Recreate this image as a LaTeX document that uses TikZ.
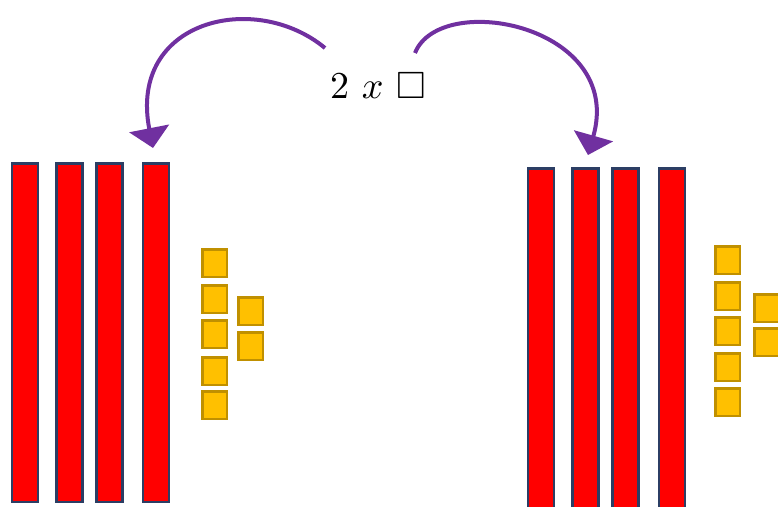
\documentclass[tikz,border=0pt]{standalone}
\usepackage{amssymb}
\usetikzlibrary{arrows.meta}
\definecolor{barred}{RGB}{255,0,0}
\definecolor{barblue}{RGB}{44,62,100}
\definecolor{unitfill}{RGB}{255,192,0}
\definecolor{unitdraw}{RGB}{192,144,0}
\definecolor{arrowpurple}{RGB}{112,48,160}
\tikzset{
  bar/.style={draw=barblue, fill=barred, line width=2.5pt, inner sep=0pt,
    minimum width=26pt, minimum height=338.5pt},
  rbar/.style={bar, minimum height=340.5pt},
  unit/.style={draw=unitdraw, fill=unitfill, line width=2.5pt, inner sep=0pt,
    minimum width=24.5pt, minimum height=27.5pt},
  curvearrow/.style={draw=arrowpurple, line width=4pt,
    -{Triangle[length=20pt,width=40pt]}}
}
\begin{document}
\begin{tikzpicture}[x=1pt,y=-1pt]
\useasboundingbox (0,0) rectangle (778,506);
\clip (0,0) rectangle (778,506);
% left bars
\node[bar] (L1) at (25,332.5) {};
\node[bar] (L2) at (69.5,332.5) {};
\node[bar] (L3) at (109.5,332.5) {};
\node[bar] (L4) at (156,332.5) {};
% left units
\node[unit] (LA1) at (214.5,263) {};
\node[unit] (LA2) at (214.5,299) {};
\node[unit] (LA3) at (214.5,334) {};
\node[unit] (LA4) at (214.5,371) {};
\node[unit] (LA5) at (214.5,405) {};
\node[unit] (LB1) at (250.5,311) {};
\node[unit] (LB2) at (250.5,346) {};
% right bars
\node[rbar] (R1) at (541,338.5) {};
\node[rbar] (R2) at (585.5,338.5) {};
\node[rbar] (R3) at (625.5,338.5) {};
\node[rbar] (R4) at (672,338.5) {};
% right units
\node[unit] (RA1) at (727.5,260) {};
\node[unit] (RA2) at (727.5,296) {};
\node[unit] (RA3) at (727.5,331) {};
\node[unit] (RA4) at (727.5,367) {};
\node[unit] (RA5) at (727.5,402) {};
\node[unit] (RB1) at (766.5,308) {};
\node[unit] (RB2) at (766.5,342) {};
% label
\node[scale=3.8] (lbl) at (378,86) {2 $x$ $\square$};
% arrows
\coordinate (ls) at (325,48);
\coordinate (lt) at (153,148);
\coordinate (rs) at (415,53);
\coordinate (rt) at (588,155);
\draw[curvearrow] (ls) .. controls (255,-10) and (128,20) .. (lt);
\draw[curvearrow] (rs) .. controls (440,-10) and (625,25) .. (rt);
\end{tikzpicture}
\end{document}
